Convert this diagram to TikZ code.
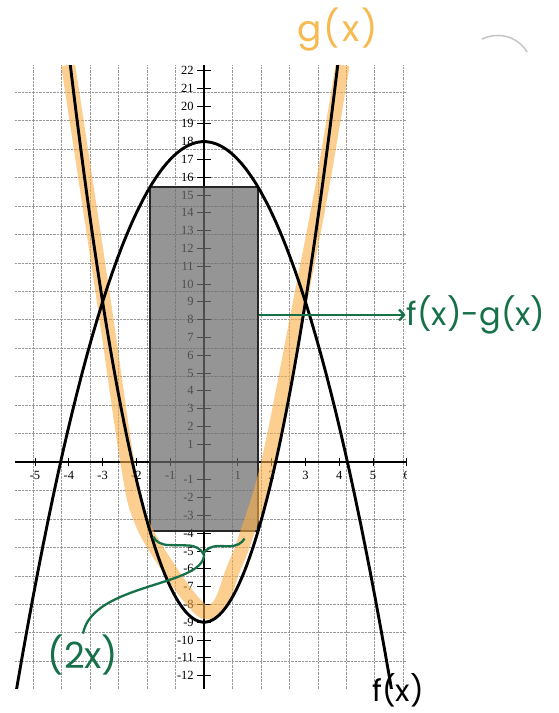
\documentclass[tikz,border=0pt]{standalone}
\usepackage{fontspec}
\newfontfamily\hand{Poppins}
\newfontfamily\handwide[LetterSpace=6]{Poppins}
\newfontfamily\numfont{Liberation Serif}
\usetikzlibrary{arrows.meta, decorations.pathreplacing}
\definecolor{hl}{RGB}{250,175,70}
\definecolor{gxc}{RGB}{247,186,80}
\definecolor{ink}{RGB}{22,112,72}

\begin{document}
\begin{tikzpicture}[x=33.8pt, y=17.8pt,
  gridline/.style={gray!80, line width=0.6pt, dash pattern=on 2.5pt off 1pt},
  axis/.style={black, line width=1.8pt},
  curve/.style={black, line width=2.9pt},
  marker/.style={hl, line width=14pt, opacity=0.6},
  bar/.style={fill=gray!85!black, fill opacity=0.72, draw=gray!30!black, line width=2.4pt},
  note/.style={ink, line width=2.3pt},
  num/.style={font=\numfont\fontsize{12.5}{12.5}\selectfont, inner sep=0pt},
  hw/.style={font=\hand\fontsize{32}{32}\selectfont, inner sep=1pt}]
\useasboundingbox (-6.036,-14.101) rectangle (10.473,25.955);

\begin{scope}
\clip (-5.6,-12.75) rectangle (6,22.3);
\draw[gridline] (-5.6,-12.75) grid (6,22.3);
\draw[axis] (-5.6,0) -- (6,0);
\draw[axis] (0,-12.75) -- (0,22.3);
\foreach \y in {-12,...,-1,1,2,...,22} {
  \draw[axis, line width=0.9pt] (-0.2,\y) -- (0.2,\y);
  \node[num, anchor=east] (ly\y) at (-0.3,\y) {\y};
}
\foreach \x in {-5,...,-1,1,2,...,6} {
  \draw[axis, line width=0.9pt] (\x,-0.25) -- (\x,0.25);
  \node[num] (lx\x) at (\x,-0.75) {\x};
}

% the region between the two curves
\draw[bar] (-1.6,-3.88) rectangle (1.6,15.44);

% highlight over g
\draw[marker] plot[smooth, tension=0.6] coordinates {(-4.02,22.3) (-3.0,9.5) (-2.27,0) (-1.86,-3.3)
  (-1.0,-6.1) (-0.3,-7.9) (0.1,-8.45) (0.5,-7.9) (0.85,-6.1) (1.2,-4.4) (1.9,0) (2.84,9) (3.5,15.5) (4.1,22.3)};

\draw[curve] plot[domain=-5.8:5.8, samples=80] (\x,{18-\x*\x});
\draw[curve] plot[domain=-3.96:3.96, samples=80] (\x,{2*\x*\x-9});
\end{scope}

\node[hw, text=gxc, font=\handwide\fontsize{36}{36}\selectfont] (gx) at (3.96,24.3) {g(x)};
\node[hw, font=\hand\fontsize{30}{30}\selectfont] (fx) at (5.74,-12.85) {f(x)};
\node[hw, text=ink] (diff) at (8.05,8.26) {f(x)-g(x)};
\node[hw, text=ink, font=\hand\fontsize{36}{36}\selectfont] (twox) at (-3.58,-10.84) {(2x)};

\coordinate (barR) at (1.62,8.26);
\coordinate (braceL) at (-1.5,-4.2);
\coordinate (braceR) at (1.2,-4.3);
\coordinate (tip) at (0,-5.2);

\draw[note, -{Straight Barb[length=5pt, width=11pt]}] (barR) -- (diff);
\draw[note, decorate, decoration={brace, mirror, amplitude=16pt, aspect=0.55}] (braceL) -- (braceR);
\draw[note] (tip) .. controls (0,-7.0) and (-3.3,-6.8) .. (twox.north);

% smudge at the top
\draw[gray!45, line width=1.5pt] (8.22,23.76) .. controls (8.6,24.1) and (9.2,24.1) .. (9.56,23.03);
\end{tikzpicture}
\end{document}
